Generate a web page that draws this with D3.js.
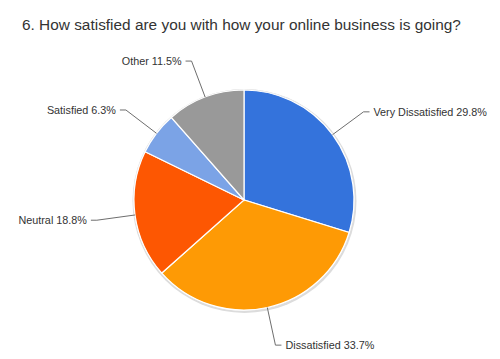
<!DOCTYPE html>
<html><head><meta charset="utf-8">
<script src="https://cdn.jsdelivr.net/npm/d3@7"></script>
<style>body{margin:0;background:#fff;} text{font-family:"Liberation Sans",Arial,Helvetica,sans-serif;}</style>
</head><body>
<svg id="chart" width="500" height="359"></svg>
<script>
const title = "6. How satisfied are you with how your online business is going?";
const categories = ["Very Dissatisfied", "Dissatisfied", "Neutral", "Satisfied", "Other"];
const values = [29.8, 33.7, 18.8, 6.3, 11.5];
const colors = ["#3473DC", "#FE9A05", "#FD5702", "#7BA3E6", "#999999"];

const svg = d3.select("#chart");
const W = 500, H = 359;
const cx = 244, cy = 200, R = 110;

svg.append("rect").attr("width", W).attr("height", H).attr("fill", "#fff");

svg.append("text").attr("x", 22).attr("y", 30)
  .attr("font-size", 15.4).attr("fill", "#333").text(title);

const data = categories.map((c, i) => ({cat: c, val: values[i], color: colors[i]}));
const pie = d3.pie().sort(null).value(d => d.val);
const arcs = pie(data);
const arc = d3.arc().innerRadius(0).outerRadius(R);

const g = svg.append("g").attr("transform", `translate(${cx},${cy})`);
// shadow
g.append("circle").attr("cx", 0.5).attr("cy", 1).attr("r", R + 2).attr("fill", "#dcdcdc");
g.append("circle").attr("cx", 0).attr("cy", 0).attr("r", R + 0.8).attr("fill", "#eeeeee");

g.selectAll("path.slice").data(arcs).join("path")
  .attr("class", "slice")
  .attr("d", arc)
  .attr("fill", d => d.data.color)
  .attr("stroke", "#fff").attr("stroke-width", 1.2);

const outerPt = d3.arc().innerRadius(R).outerRadius(R);
const elbowArc = d3.arc().innerRadius(R * 1.35).outerRadius(R * 1.35);

arcs.forEach(d => {
  const p0 = outerPt.centroid(d);
  const p1 = elbowArc.centroid(d);
  const mid = (d.startAngle + d.endAngle) / 2;
  const right = mid < Math.PI;
  const p2 = [p1[0] + (right ? 6 : -6), p1[1]];
  g.append("polyline")
    .attr("points", [p0, p1, p2].map(p => p.join(",")).join(" "))
    .attr("fill", "none").attr("stroke", "#6e6e6e").attr("stroke-width", 1);
  g.append("text")
    .attr("x", p2[0] + (right ? 4 : -4)).attr("y", p2[1] + 4)
    .attr("text-anchor", right ? "start" : "end")
    .attr("font-size", 10.8).attr("fill", "#333")
    .text(`${d.data.cat} ${d3.format(".1f")(d.data.val)}%`);
});
</script>
</body></html>
